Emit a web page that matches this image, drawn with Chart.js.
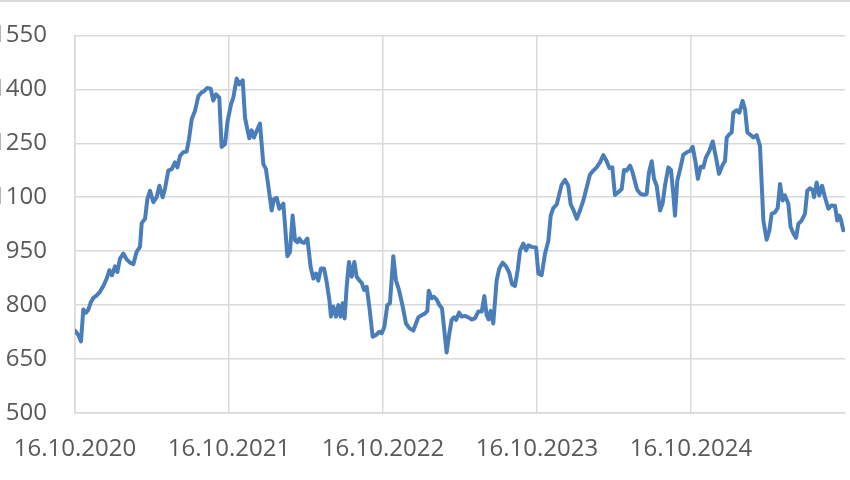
<!DOCTYPE html>
<html>
<head>
<meta charset="utf-8">
<script src="https://cdn.jsdelivr.net/npm/chart.js@4.4.1/dist/chart.umd.min.js"></script>
<style>
  html, body { margin: 0; padding: 0; background: #fff; }
  #frame { width: 850px; height: 480px; position: relative; overflow: hidden; }
  #wrap { width: 850px; height: 487px; position: absolute; left: 0; top: -7px; }
  #rule { position: absolute; left: 0; top: 0; width: 850px; height: 2px; background: #d9d9d9; }
</style>
</head>
<body>
<div id="frame">
  <div id="wrap"><canvas id="priceChart"></canvas></div>
  <div id="rule"></div>
</div>
<script>
// x-Achse: Jahre seit 16.10.2020
const tickLabels = ['16.10.2020', '16.10.2021', '16.10.2022', '16.10.2023', '16.10.2024'];
const tickYears = [0, 1, 2, 3, 4];

const yearsSinceStart = [
  0.000, 0.022, 0.039, 0.054, 0.071, 0.087, 0.102, 0.119, 0.141, 0.162,
  0.184, 0.206, 0.223, 0.240, 0.260, 0.275, 0.292, 0.314, 0.336, 0.357,
  0.379, 0.400, 0.422, 0.433, 0.455, 0.470, 0.487, 0.509, 0.530, 0.548,
  0.569, 0.584, 0.606, 0.628, 0.649, 0.665, 0.682, 0.703, 0.725, 0.740,
  0.758, 0.779, 0.801, 0.823, 0.833, 0.859, 0.881, 0.898, 0.916, 0.937,
  0.952, 0.974, 0.991, 1.013, 1.028, 1.050, 1.067, 1.089, 1.104, 1.119,
  1.132, 1.147, 1.162, 1.180, 1.201, 1.223, 1.240, 1.255, 1.277, 1.292,
  1.310, 1.327, 1.353, 1.379, 1.396, 1.413, 1.429, 1.444, 1.457, 1.472,
  1.487, 1.509, 1.530, 1.548, 1.565, 1.580, 1.597, 1.617, 1.634, 1.652,
  1.662, 1.677, 1.695, 1.710, 1.725, 1.738, 1.751, 1.764, 1.779, 1.797,
  1.814, 1.829, 1.846, 1.862, 1.877, 1.894, 1.911, 1.933, 1.955, 1.976,
  1.992, 2.009, 2.028, 2.045, 2.067, 2.084, 2.104, 2.128, 2.149, 2.171,
  2.197, 2.214, 2.229, 2.251, 2.273, 2.288, 2.297, 2.316, 2.331, 2.348,
  2.366, 2.383, 2.398, 2.413, 2.431, 2.446, 2.461, 2.474, 2.494, 2.511,
  2.532, 2.554, 2.576, 2.597, 2.619, 2.641, 2.658, 2.673, 2.686, 2.699,
  2.716, 2.738, 2.755, 2.777, 2.799, 2.820, 2.838, 2.857, 2.875, 2.890,
  2.911, 2.929, 2.944, 2.965, 2.994, 3.009, 3.030, 3.052, 3.074, 3.089,
  3.106, 3.128, 3.145, 3.160, 3.182, 3.203, 3.219, 3.236, 3.258, 3.279,
  3.301, 3.323, 3.344, 3.366, 3.387, 3.409, 3.431, 3.452, 3.470, 3.489,
  3.506, 3.528, 3.550, 3.565, 3.582, 3.604, 3.621, 3.636, 3.651, 3.673,
  3.695, 3.712, 3.727, 3.745, 3.760, 3.777, 3.799, 3.816, 3.831, 3.853,
  3.870, 3.885, 3.896, 3.911, 3.933, 3.950, 3.972, 3.994, 4.011, 4.028,
  4.045, 4.063, 4.080, 4.097, 4.119, 4.141, 4.162, 4.182, 4.206, 4.221,
  4.232, 4.249, 4.264, 4.275, 4.297, 4.314, 4.335, 4.351, 4.366, 4.387,
  4.405, 4.426, 4.448, 4.459, 4.470, 4.491, 4.509, 4.524, 4.545, 4.563,
  4.578, 4.595, 4.610, 4.632, 4.647, 4.665, 4.682, 4.697, 4.718, 4.740,
  4.755, 4.773, 4.790, 4.799, 4.816, 4.833, 4.851, 4.870, 4.892, 4.911,
  4.935, 4.950, 4.963, 4.972, 4.989
];

const prices = [
  729, 717, 699, 788, 779, 788, 807, 820, 827, 837,
  853, 874, 897, 883, 908, 892, 929, 943, 927, 918,
  914, 948, 962, 1028, 1040, 1095, 1118, 1086, 1100, 1132,
  1100, 1123, 1174, 1178, 1197, 1183, 1215, 1225, 1227, 1261,
  1317, 1340, 1381, 1392, 1393, 1404, 1402, 1369, 1386, 1377,
  1240, 1248, 1312, 1358, 1377, 1430, 1414, 1425, 1321, 1289,
  1264, 1286, 1266, 1285, 1305, 1192, 1178, 1132, 1063, 1095,
  1098, 1068, 1082, 936, 948, 1049, 980, 975, 985, 975,
  973, 985, 906, 874, 888, 868, 902, 902, 865, 814,
  768, 796, 768, 800, 768, 805, 763, 851, 920, 879,
  920, 879, 869, 862, 842, 851, 796, 712, 717, 726,
  722, 740, 800, 805, 936, 869, 842, 796, 749, 736,
  729, 749, 766, 772, 777, 784, 840, 819, 823, 816,
  800, 791, 731, 668, 722, 759, 766, 759, 779, 768,
  770, 766, 760, 763, 782, 782, 825, 772, 760, 784,
  749, 869, 902, 918, 908, 890, 858, 853, 899, 952,
  971, 952, 966, 962, 960, 888, 883, 943, 980, 1049,
  1070, 1080, 1109, 1135, 1148, 1132, 1080, 1065, 1040, 1063,
  1091, 1128, 1163, 1174, 1183, 1197, 1217, 1201, 1181, 1183,
  1106, 1114, 1123, 1176, 1174, 1188, 1169, 1144, 1120, 1109,
  1107, 1109, 1169, 1200, 1151, 1132, 1063, 1083, 1132, 1183,
  1176, 1109, 1049, 1146, 1185, 1218, 1225, 1229, 1240, 1201,
  1151, 1185, 1183, 1211, 1229, 1255, 1211, 1165, 1190, 1201,
  1266, 1275, 1280, 1335, 1342, 1335, 1368, 1344, 1280, 1273,
  1266, 1273, 1243, 1137, 1035, 982, 1008, 1054, 1058, 1070,
  1137, 1091, 1105, 1082, 1017, 999, 987, 1026, 1035, 1054,
  1118, 1125, 1120, 1100, 1141, 1105, 1132, 1100, 1068, 1077,
  1076, 1035, 1049, 1040, 1008
];

const yMin = 500, yMax = 1550, yStep = 150;

const points = yearsSinceStart.map((t, i) => ({ x: t, y: prices[i] }));

const gridColor = '#d9d9d9';
const textColor = '#595959';
const tickFont = { family: 'Open Sans', size: 24 };

new Chart(document.getElementById('priceChart'), {
  type: 'line',
  data: {
    datasets: [{
      data: points,
      borderColor: '#4a7ebb',
      borderWidth: 4,
      pointRadius: 0,
      tension: 0,
      borderJoinStyle: 'round',
      borderCapStyle: 'round',
      fill: false
    }]
  },
  options: {
    responsive: true,
    maintainAspectRatio: false,
    animation: false,
    layout: { padding: { top: 28, right: 5, left: 0, bottom: 0 } },
    plugins: {
      legend: { display: false },
      tooltip: { enabled: false }
    },
    scales: {
      x: {
        type: 'linear',
        min: 0,
        max: 5,
        afterBuildTicks: (axis) => { axis.ticks = tickYears.map(v => ({ value: v })); },
        afterFit: (axis) => { axis.height = 67; axis.paddingLeft = 0; axis.paddingRight = 0; },
        grid: { color: gridColor, lineWidth: 1.5, drawTicks: false },
        border: { color: gridColor, width: 1.5 },
        ticks: {
          padding: 22,
          color: textColor,
          font: tickFont,
          maxRotation: 0,
          autoSkip: false,
          callback: (v) => tickLabels[tickYears.indexOf(v)] ?? ''
        }
      },
      y: {
        min: yMin,
        max: yMax,
        afterFit: (axis) => { axis.width = 75; },
        grid: { color: gridColor, lineWidth: 1.5, drawTicks: false },
        border: { color: gridColor, width: 1.5 },
        ticks: {
          stepSize: yStep,
          padding: 28,
          color: textColor,
          font: tickFont,
          callback: (v) => String(v)
        }
      }
    }
  }
});
</script>
</body>
</html>
